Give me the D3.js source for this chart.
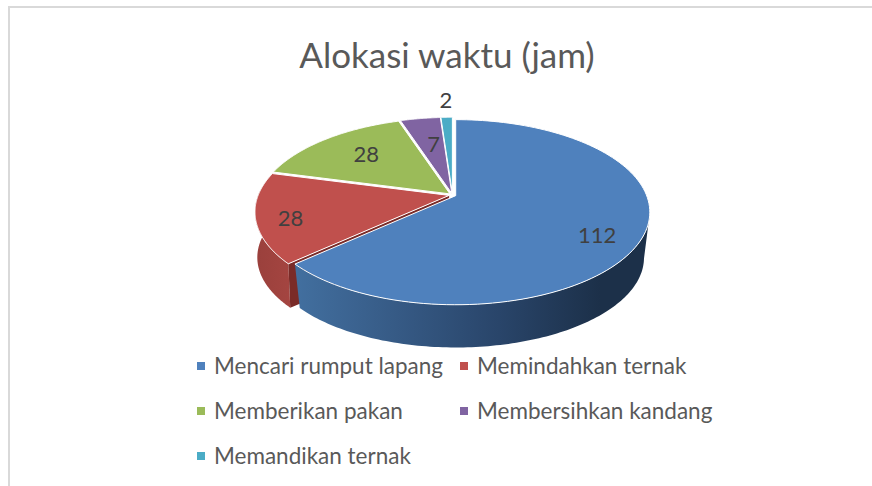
<!DOCTYPE html>
<html>
<head>
<meta charset="utf-8">
<script src="https://cdn.jsdelivr.net/npm/d3@7"></script>
<style>
  html, body { margin: 0; background: #fff; }
  svg { display: block; font-family: Lato, "Open Sans", sans-serif; }
</style>
</head>
<body>
<svg id="chart" width="872" height="486"></svg>
<script>
const categories = ["Mencari rumput lapang", "Memindahkan ternak", "Memberikan pakan", "Membersihkan kandang", "Memandikan ternak"];
const values = [112, 28, 28, 7, 2];
const colors = ["#4f81bd", "#c0504d", "#9bbb59", "#8064a2", "#4bacc6"];
const titleText = "Alokasi waktu (jam)";

const svg = d3.select("#chart");
const color = d3.scaleOrdinal().domain(categories).range(colors);

// Pie geometry: the disc is seen in perspective, so the apex sits above the middle of its ellipse
const cx = 452.5, cy = 195;
const radiusX = 191, radiusY = 89.6, persp = 5.6;
const explode = 3.5;      // gap of each slice from the apex
const depth = 46;         // height of the side wall
const shrink = 0.97, shrinkRed = 0.988; // how much the lower rim narrows on each visible side

const pie = d3.pie().sort(null).value((d, i) => values[i]);
const slices = pie(categories);

// disc point at clockwise angle a and radius r (0-1), for slice s, on the upper or lower rim
function project(a, r, s, lower) {
  const mid = (s.startAngle + s.endAngle) / 2;
  const ox = explode * Math.sin(mid), oy = -explode * Math.cos(mid) * radiusY / radiusX;
  const u = r * Math.sin(a), v = -r * Math.cos(a);
  const f = persp / (persp - v);
  let x = radiusX * u * f, y = radiusY * v * f;
  if (lower) {
    x *= s.index === 1 ? shrinkRed : shrink;
    y = y * shrink + depth;
  }
  return [cx + ox + x, cy + oy + y];
}

const line = d3.line();
const arcPoints = (s, from, to, lower) =>
  d3.range(0, 121).map((i) => project(from + (to - from) * i / 120, 1, s, lower));

function topPath(s) {
  return line([project(0, 0, s, false), ...arcPoints(s, s.startAngle, s.endAngle, false)]) + "Z";
}
// outer wall between two angles: upper rim forwards, lower rim backwards
function sidePath(s, from, to) {
  return line([...arcPoints(s, from, to, false), ...arcPoints(s, from, to, true).reverse()]) + "Z";
}

// Side shading
const defs = svg.append("defs");
function sideGradient(id, x1, x2, stops) {
  const g = defs.append("linearGradient").attr("id", id)
    .attr("gradientUnits", "userSpaceOnUse")
    .attr("x1", x1).attr("x2", x2).attr("y1", 0).attr("y2", 0);
  stops.forEach((c, i) => g.append("stop").attr("offset", i / (stops.length - 1)).attr("stop-color", c));
}
sideGradient("side-blue", 296, 600, ["#426f9f", "#365a85", "#29456a", "#1c3049"]);
sideGradient("side-red", 256, 292, ["#9a403c", "#a54541"]);

// Frame
svg.append("path").attr("d", "M9,486V7H872").attr("fill", "none")
  .attr("stroke", "#d9d9d9").attr("stroke-width", 2);

// Title
svg.append("text").attr("x", 447).attr("y", 68).attr("text-anchor", "middle")
  .attr("font-size", 35).attr("fill", "#595959").text(titleText);

const [blue, red] = slices;

// Red wall and the cut face next to the blue slice
svg.append("path").attr("d", sidePath(red, red.startAngle, 1.5 * Math.PI + 0.06))
  .attr("fill", "url(#side-red)");
svg.append("path")
  .attr("d", line([project(0, 0, red, false), project(red.startAngle, 1, red, false),
    project(red.startAngle, 1, red, true), project(0, 0, red, true)]) + "Z")
  .attr("fill", "#7a2b28");

// Blue wall
svg.append("path").attr("d", sidePath(blue, Math.PI * 0.56, blue.endAngle))
  .attr("fill", "url(#side-blue)");

// Tops
svg.selectAll("path.top").data(slices.slice().reverse()).join("path")
  .attr("class", "top")
  .attr("d", topPath)
  .attr("fill", (d) => color(d.data))
  .attr("stroke", "#fff").attr("stroke-width", 1).attr("stroke-linejoin", "round");

// Data labels: along each slice's middle angle, then nudged the way the original sits
const labelRadius = [0.74, 0.79, 0.64, 0.7, 1.13];
const labelNudge = [[5, 11], [-7, 5], [-1, -3], [5, 5], [0, -9]];
const labelPos = (d, i) => project((d.startAngle + d.endAngle) / 2, labelRadius[i], d, false);
svg.selectAll("text.value").data(slices).join("text")
  .attr("class", "value")
  .attr("x", (d, i) => labelPos(d, i)[0] + labelNudge[i][0])
  .attr("y", (d, i) => labelPos(d, i)[1] + 8 + labelNudge[i][1])
  .attr("text-anchor", "middle")
  .attr("font-size", 22).attr("fill", "#404040")
  .text((d) => d.value);

// Legend
const legendX = d3.scalePoint().domain([0, 1]).range([197, 460]);
const legendY = d3.scalePoint().domain([0, 1, 2]).range([366, 456]);
const legend = svg.selectAll("g.legend").data(categories).join("g")
  .attr("class", "legend")
  .attr("transform", (d, i) => `translate(${legendX(i % 2)},${legendY(Math.floor(i / 2))})`);
legend.append("rect").attr("y", -4).attr("width", 8).attr("height", 8).attr("fill", (d) => color(d));
legend.append("text").attr("x", 17).attr("y", 8).attr("font-size", 22.5).attr("fill", "#595959").text((d) => d);
</script>
</body>
</html>
